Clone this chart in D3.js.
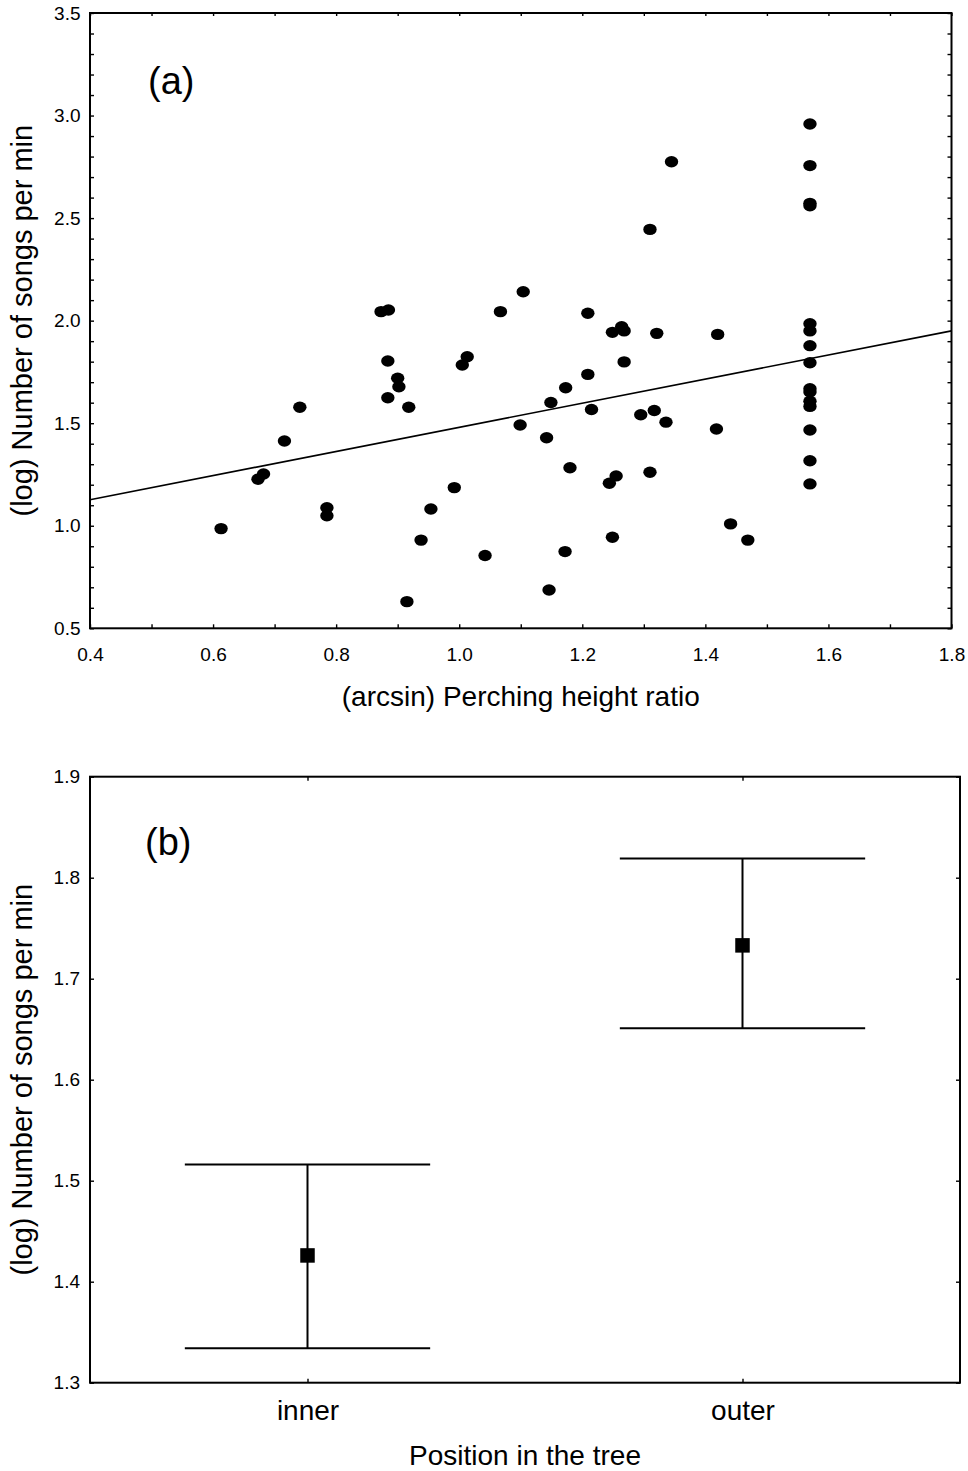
<!DOCTYPE html>
<html>
<head>
<meta charset="utf-8">
<script src="https://cdn.jsdelivr.net/npm/d3@7"></script>
<style>
  html, body { margin: 0; padding: 0; background: #fff; }
  svg { display: block; font-family: "Liberation Sans", Arial, Helvetica, sans-serif; }
</style>
</head>
<body>
<svg id="fig" width="968" height="1471"></svg>
<script>
// ---- Panel (a): song rate vs perching height ----
const perchRatio = [
  0.613, 0.673, 0.682, 0.716, 0.741, 0.785, 0.785, 0.873, 0.885, 0.884,
  0.884, 0.900, 0.902, 0.918, 0.915, 0.938, 0.954, 0.992, 1.005, 1.013,
  1.042, 1.067, 1.099, 1.104, 1.142, 1.146, 1.149, 1.172, 1.173, 1.180,
  1.209, 1.209, 1.215, 1.244, 1.249, 1.249, 1.255, 1.264, 1.268, 1.268,
  1.295, 1.310, 1.310, 1.317, 1.321, 1.336, 1.345, 1.418, 1.420, 1.441,
  1.469,
  1.570, 1.570, 1.570, 1.570, 1.570, 1.570, 1.570, 1.570, 1.570, 1.570,
  1.570, 1.570, 1.570, 1.570, 1.570
];
const songRate = [
  0.986, 1.227, 1.252, 1.413, 1.578, 1.088, 1.049, 2.044, 2.052, 1.803,
  1.624, 1.719, 1.678, 1.578, 0.630, 0.930, 1.082, 1.186, 1.784, 1.824,
  0.855, 2.044, 1.491, 2.141, 1.429, 0.687, 1.601, 0.874, 1.673, 1.283,
  2.036, 1.738, 1.567, 1.207, 1.943, 0.944, 1.243, 1.970, 1.950, 1.799,
  1.541, 2.445, 1.261, 1.562, 1.938, 1.505, 2.775, 1.472, 1.933, 1.009,
  0.930,
  2.959, 2.756, 2.572, 2.560, 1.985, 1.950, 1.878, 1.795, 1.668, 1.652,
  1.607, 1.582, 1.467, 1.317, 1.204
];
// fitted regression line, given at the two ends of the x range
const fitX = [0.4, 1.8];
const fitY = [1.127, 1.950];

const xTicksA = d3.range(4, 19).map(i => i / 10);      // 0.4 .. 1.8
const yTicksA = d3.range(5, 36).map(i => i / 10);      // 0.5 .. 3.5

// ---- Panel (b): song rate by position in the tree ----
const positions = ["inner", "outer"];
const meanRate = [1.426, 1.733];
const upperRate = [1.516, 1.819];
const lowerRate = [1.334, 1.651];
const yTicksB = d3.range(13, 20).map(i => i / 10);     // 1.3 .. 1.9

const yTitle = "(log) Number of songs per min";

const svg = d3.select("#fig");
const fmt = d3.format(".1f");
const TICK_FONT = 19;
const TITLE_FONT = 29;

function frame(g, x0, y0, x1, y1) {
  g.append("rect")
    .attr("x", x0).attr("y", y0)
    .attr("width", x1 - x0).attr("height", y1 - y0)
    .attr("fill", "none").attr("stroke", "#000").attr("stroke-width", 2);
}

function styleAxis(sel, fontSize) {
  sel.select(".domain").remove();
  sel.selectAll(".tick line").attr("stroke", "#000").attr("stroke-width", 1.4);
  sel.selectAll(".tick text").attr("fill", "#000")
    .style("font-size", fontSize + "px")
    .style("font-family", "'Liberation Sans', Arial, sans-serif");
}

// ======== Panel (a) ========
{
  const L = 90, R = 951.5, T = 13, B = 628.3;
  const x = d3.scaleLinear().domain([0.4, 1.8]).range([L, R]);
  const y = d3.scaleLinear().domain([0.5, 3.5]).range([B, T]);
  const g = svg.append("g");

  g.append("g").attr("transform", `translate(0,${B})`)
    .call(d3.axisBottom(x).tickValues(xTicksA).tickSize(-4).tickPadding(19)
      .tickFormat(d => Math.round(d * 10) % 2 === 0 ? fmt(d) : ""))
    .call(s => styleAxis(s, TICK_FONT));
  g.append("g").attr("transform", `translate(0,${T})`)
    .call(d3.axisTop(x).tickValues(xTicksA).tickSize(-3).tickFormat(""))
    .call(s => styleAxis(s, TICK_FONT));
  g.append("g").attr("transform", `translate(${L},0)`)
    .call(d3.axisLeft(y).tickValues(yTicksA).tickSize(-4).tickPadding(9.5)
      .tickFormat(d => Math.round(d * 10) % 5 === 0 ? fmt(d) : ""))
    .call(s => styleAxis(s, TICK_FONT));
  g.append("g").attr("transform", `translate(${R},0)`)
    .call(d3.axisRight(y).tickValues(yTicksA).tickSize(-4).tickFormat(""))
    .call(s => styleAxis(s, TICK_FONT));

  // regression line
  g.append("path")
    .datum(fitX.map((v, i) => [v, fitY[i]]))
    .attr("d", d3.line().x(d => x(d[0])).y(d => y(d[1])))
    .attr("fill", "none").attr("stroke", "#000").attr("stroke-width", 1.6);

  // observations
  g.append("g").selectAll("ellipse")
    .data(perchRatio.map((v, i) => [v, songRate[i]]))
    .join("ellipse")
    .attr("cx", d => x(d[0])).attr("cy", d => y(d[1]))
    .attr("rx", 6.7).attr("ry", 5.7)
    .attr("fill", "#000");

  frame(g, L, T, R, B);

  g.append("text").attr("x", 148).attr("y", 93.5)
    .attr("font-size", 38).text("(a)");

  g.append("text").attr("x", (L + R) / 2).attr("y", 706)
    .attr("text-anchor", "middle").attr("font-size", 28)
    .text("(arcsin) Perching height ratio");

  g.append("text")
    .attr("transform", `translate(31.5,${(T + B) / 2}) rotate(-90)`)
    .attr("text-anchor", "middle").attr("font-size", TITLE_FONT)
    .text(yTitle);
}

// ======== Panel (b) ========
{
  const L = 90, R = 960, T = 776.7, B = 1382.7;
  const x = d3.scalePoint().domain(positions).range([L, R]).padding(0.5);
  const y = d3.scaleLinear().domain([1.3, 1.9]).range([B, T]);
  const g = svg.append("g");

  g.append("g").attr("transform", `translate(0,${B})`)
    .call(d3.axisBottom(x).tickSize(-4).tickPadding(17.5))
    .call(s => styleAxis(s, 28));
  g.append("g").attr("transform", `translate(0,${T})`)
    .call(d3.axisTop(x).tickSize(-4).tickFormat(""))
    .call(s => styleAxis(s, 28));
  g.append("g").attr("transform", `translate(${L},0)`)
    .call(d3.axisLeft(y).tickValues(yTicksB).tickSize(-4).tickPadding(10).tickFormat(fmt))
    .call(s => styleAxis(s, TICK_FONT));
  g.append("g").attr("transform", `translate(${R},0)`)
    .call(d3.axisRight(y).tickValues(yTicksB).tickSize(-4).tickFormat(""))
    .call(s => styleAxis(s, TICK_FONT));

  const rows = positions.map((p, i) => ({ p, m: meanRate[i], hi: upperRate[i], lo: lowerRate[i] }));
  const capHalf = x.step() * 0.282;

  const eb = g.append("g").attr("stroke", "#000").attr("stroke-width", 2).attr("fill", "none");
  eb.selectAll(".stem").data(rows).join("line").attr("class", "stem")
    .attr("x1", d => x(d.p)).attr("x2", d => x(d.p))
    .attr("y1", d => y(d.hi)).attr("y2", d => y(d.lo));
  eb.selectAll(".capHi").data(rows).join("line").attr("class", "capHi")
    .attr("x1", d => x(d.p) - capHalf).attr("x2", d => x(d.p) + capHalf)
    .attr("y1", d => y(d.hi)).attr("y2", d => y(d.hi));
  eb.selectAll(".capLo").data(rows).join("line").attr("class", "capLo")
    .attr("x1", d => x(d.p) - capHalf).attr("x2", d => x(d.p) + capHalf)
    .attr("y1", d => y(d.lo)).attr("y2", d => y(d.lo));

  const sq = 14.5;
  g.append("g").selectAll("rect").data(rows).join("rect")
    .attr("x", d => x(d.p) - sq / 2).attr("y", d => y(d.m) - sq / 2)
    .attr("width", sq).attr("height", sq).attr("fill", "#000");

  frame(g, L, T, R, B);

  g.append("text").attr("x", 145).attr("y", 855)
    .attr("font-size", 38).text("(b)");

  g.append("text").attr("x", (L + R) / 2).attr("y", 1465)
    .attr("text-anchor", "middle").attr("font-size", 28)
    .text("Position in the tree");

  g.append("text")
    .attr("transform", `translate(31.5,${(T + B) / 2}) rotate(-90)`)
    .attr("text-anchor", "middle").attr("font-size", TITLE_FONT)
    .text(yTitle);
}
</script>
</body>
</html>
